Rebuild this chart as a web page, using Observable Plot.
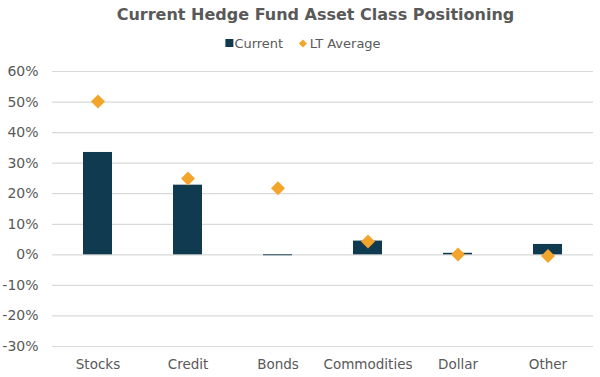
<!DOCTYPE html>
<html><head><meta charset="utf-8">
<script src="https://cdn.jsdelivr.net/npm/d3@7"></script>
<script src="https://cdn.jsdelivr.net/npm/@observablehq/plot@0.6"></script>
<style>
body{margin:0;background:#fff;font-family:"DejaVu Sans",sans-serif;}
#wrap{width:600px;height:377px;position:relative;overflow:hidden}
#title{position:absolute;top:7px;left:315.5px;transform:translateX(-50%);font-weight:bold;font-size:16px;line-height:16px;color:#595959;white-space:nowrap}
#legend{position:absolute;top:36.7px;left:303px;transform:translateX(-50%);font-size:13px;line-height:13px;color:#595959;white-space:nowrap;display:flex;align-items:center}
#legend span{display:inline-flex;align-items:center}
.sw{display:inline-block;width:7.5px;height:8px;margin-right:1.5px}
#chart{position:absolute;top:58px;left:0}
</style></head>
<body><div id="wrap">
<div id="title">Current Hedge Fund Asset Class Positioning</div>
<div id="legend"><span style="margin-right:15px"><i class="sw" style="background:#0f3a4f"></i>Current</span><span><svg width="9" height="9" style="margin-right:2.5px"><path d="M4.5 0.5L8.5 4.5L4.5 8.5L0.5 4.5Z" fill="#f2a52a"/></svg>LT Average</span></div>
<div id="chart"></div>
</div>
<script>
const categories = ["Stocks", "Credit", "Bonds", "Commodities", "Dollar", "Other"];
const current = [0.335, 0.228, -0.003, 0.045, 0.005, 0.034];
const ltAverage = [0.502, 0.25, 0.218, 0.044, 0.001, -0.004];
const yTickValues = [-30, -20, -10, 0, 10, 20, 30, 40, 50, 60];

const yTicks = yTickValues.map(v => v / 100);
const data = categories.map((c, i) => ({cat: c, current: current[i], lt: ltAverage[i]}));

const chart = Plot.plot({
  width: 600,
  height: 319,
  marginTop: 13,
  marginBottom: 31,
  marginLeft: 52,
  marginRight: 7,
  style: {fontFamily: "DejaVu Sans, sans-serif", fontSize: "13.5px", color: "#595959", background: "#fff", overflow: "visible"},
  x: {domain: categories, paddingInner: 0.68, paddingOuter: 0.34, label: null},
  y: {domain: [-0.3, 0.6], label: null},
  marks: [
    Plot.ruleY(yTicks, {stroke: "#d9d9d9", strokeWidth: 1.2}),
    Plot.barY(data, {x: "cat", y: "current", fill: "#0f3a4f"}),
    Plot.dot(data, {x: "cat", y: "lt", symbol: "diamond2", r: 6.3, fill: "#f2a52a", stroke: "none"}),
    Plot.axisY({ticks: yTicks, tickFormat: d => `${Math.round(d * 100)}%`, tickSize: 0, tickPadding: 14, fontSize: 14, fill: "#595959", label: null}),
    Plot.axisX({tickSize: 0, tickPadding: 13, fill: "#595959", label: null})
  ]
});
document.getElementById("chart").appendChild(chart);
</script>
</body></html>
